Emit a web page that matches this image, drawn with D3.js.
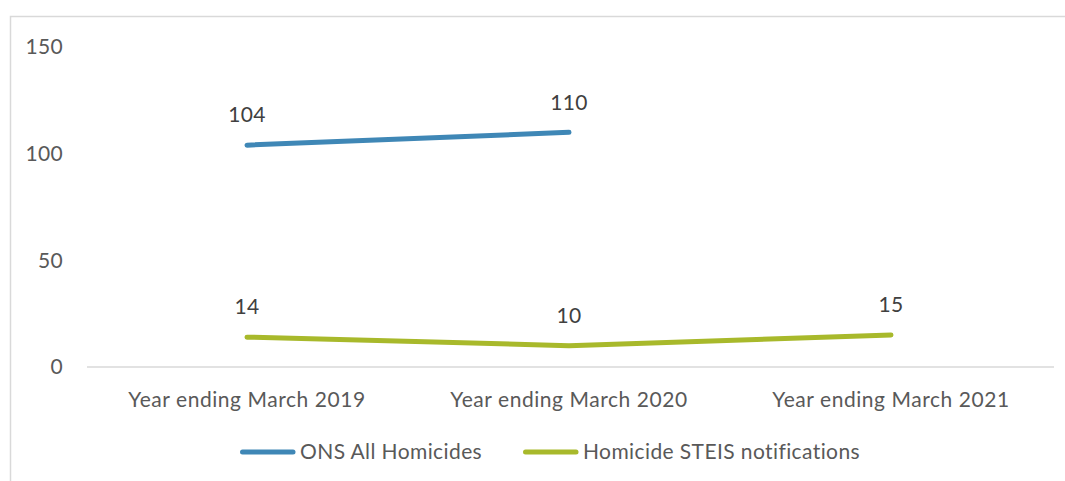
<!DOCTYPE html>
<html>
<head>
<meta charset="utf-8">
<script src="https://cdn.jsdelivr.net/npm/d3@7"></script>
<style>
  html, body { margin: 0; padding: 0; background: #fff; }
  svg { display: block; }
  text { font-family: Lato, "Open Sans", sans-serif; fill: #595959; }
</style>
</head>
<body>
<svg id="chart" width="1065" height="481"></svg>
<script>
// Homicide counts by reporting year
const categories = ["Year ending March 2019", "Year ending March 2020", "Year ending March 2021"];
const onsAllHomicides = [104, 110, null];
const steisNotifications = [14, 10, 15];
const yTicks = [0, 50, 100, 150];
const seriesNames = ["ONS All Homicides", "Homicide STEIS notifications"];
const seriesColors = ["#3F87B6", "#A8B92B"];

const svg = d3.select("#chart");
const W = 1065, H = 481;
const FS = 21;

// chart frame (runs off the right and bottom)
svg.append("rect")
  .attr("x", 10.5).attr("y", 16.5)
  .attr("width", W).attr("height", H)
  .attr("fill", "#fff")
  .attr("stroke", "#d9d9d9").attr("stroke-width", 1.5);

const x = d3.scalePoint().domain(categories).range([247, 891]);
const y = d3.scaleLinear().domain([0, 150]).range([367, 47]);

// y tick labels
svg.append("g").selectAll("text")
  .data(yTicks).join("text")
  .attr("x", 63).attr("y", d => y(d))
  .attr("dy", "0.35em")
  .attr("text-anchor", "end")
  .attr("font-size", FS)
  .attr("letter-spacing", 0.3)
  .text(d => d);

// baseline
svg.append("line")
  .attr("x1", 87).attr("x2", 1054)
  .attr("y1", y(0)).attr("y2", y(0))
  .attr("stroke", "#d9d9d9").attr("stroke-width", 1.5);

// category labels
svg.append("g").selectAll("text")
  .data(categories).join("text")
  .attr("x", d => x(d)).attr("y", 400)
  .attr("dy", "0.35em")
  .attr("text-anchor", "middle")
  .attr("font-size", FS)
  .attr("letter-spacing", 0.55)
  .text(d => d);

const series = [onsAllHomicides, steisNotifications];
const line = d3.line()
  .defined(d => d != null)
  .x((d, i) => x(categories[i]))
  .y(d => y(d));

series.forEach((vals, s) => {
  svg.append("path")
    .datum(vals)
    .attr("d", line)
    .attr("fill", "none")
    .attr("stroke", seriesColors[s])
    .attr("stroke-width", 5)
    .attr("stroke-linecap", "round")
    .attr("stroke-linejoin", "round");

  svg.append("g").selectAll("text")
    .data(vals.map((v, i) => ({ v, i })).filter(d => d.v != null))
    .join("text")
    .attr("x", d => x(categories[d.i]))
    .attr("y", d => y(d.v) - 30)
    .attr("dy", "0.35em")
    .attr("text-anchor", "middle")
    .attr("font-size", FS)
    .attr("letter-spacing", 0.3)
    .style("fill", "#404040")
    .text(d => d.v);
});

// legend
const legendX = [240, 523];
const legend = svg.append("g");
seriesNames.forEach((name, s) => {
  legend.append("line")
    .attr("x1", legendX[s] + 2.5).attr("x2", legendX[s] + 53)
    .attr("y1", 452).attr("y2", 452)
    .attr("stroke", seriesColors[s])
    .attr("stroke-width", 5)
    .attr("stroke-linecap", "round");
  legend.append("text")
    .attr("x", legendX[s] + 60).attr("y", 452)
    .attr("dy", "0.35em")
    .attr("font-size", FS)
    .attr("letter-spacing", 0.4)
    .text(name);
});
</script>
</body>
</html>
